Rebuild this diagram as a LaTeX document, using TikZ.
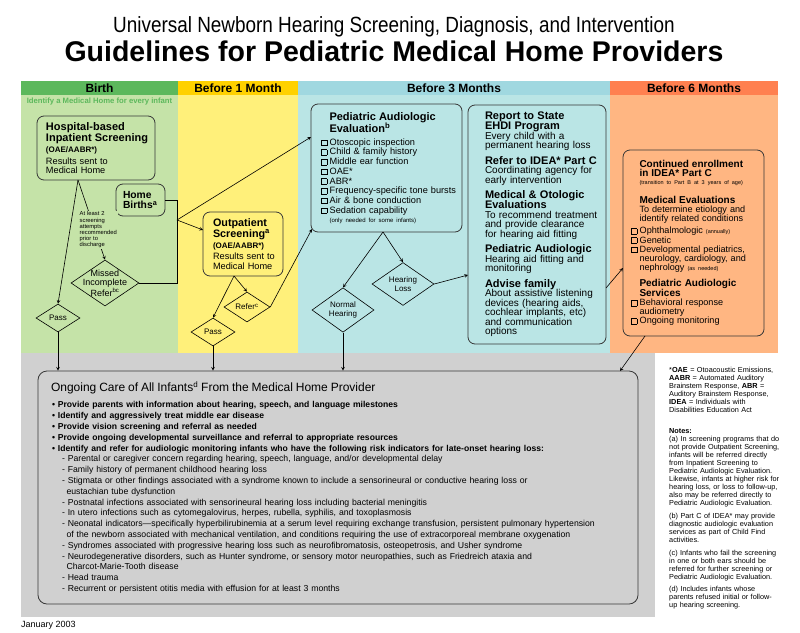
\documentclass[tikz,border=0pt]{standalone}
\usepackage{fontspec}
\setmainfont{Liberation Sans}
\newfontfamily\titlefont{Liberation Sans}[FakeStretch=0.86]
\usetikzlibrary{shapes.geometric, arrows}
\definecolor{birthhd}{RGB}{92,184,92}
\definecolor{birthbg}{RGB}{197,227,168}
\definecolor{monthhd}{RGB}{255,209,0}
\definecolor{monthbg}{RGB}{255,240,122}
\definecolor{threehd}{RGB}{160,216,224}
\definecolor{threebg}{RGB}{186,229,229}
\definecolor{sixhd}{RGB}{255,128,80}
\definecolor{sixbg}{RGB}{255,182,130}
\definecolor{carebg}{RGB}{208,208,208}
\definecolor{edge}{RGB}{55,55,55}
\newcommand{\fsz}[2]{\fontsize{#1}{#2}\selectfont}
\newcommand{\textinset}[1]{\leftskip=#1\relax\lineskiplimit=-20pt\relax\ignorespaces}
\newcommand{\chk}{{\setlength{\fboxsep}{0pt}\setlength{\fboxrule}{0.6pt}\fbox{\rule{0pt}{5pt}\rule{5pt}{0pt}}}\hspace{2.5pt}}
\tikzstyle{roundbox} = [rectangle, rounded corners=7pt, draw=edge, line width=0.8pt, inner xsep=0pt, inner ysep=0pt, align=left]
\tikzstyle{decision} = [diamond, draw=black, line width=0.6pt, inner sep=0pt, align=center]
\tikzstyle{header} = [rectangle, minimum height=14pt, inner sep=0pt, font=\bfseries\fsz{12}{12}]
\tikzstyle{arrow} = [line width=0.6pt,->,>=stealth]
\tikzstyle{line} = [line width=0.6pt]

\begin{document}
\begin{tikzpicture}[x=1pt,y=-1pt]
\useasboundingbox (0,0) rectangle (800,632);
% heading
\node (title) [font=\titlefont\fsz{22}{22}] at (394,27) {Universal Newborn Hearing Screening, Diagnosis, and Intervention};
\node (subtitle) [font=\bfseries\fsz{28.5}{28.5}] at (394,51) {Guidelines for Pediatric Medical Home Providers};

% columns
\fill [birthbg] (21,95) rectangle (178,353);
\fill [monthbg] (178,95) rectangle (298,353);
\fill [threebg] (298,95) rectangle (610,353);
\fill [sixbg] (610,95) rectangle (778,353);
\fill [carebg] (21,353) rectangle (655,617);
\node (birth) [header, fill=birthhd, minimum width=157pt] at (99.5,88) {Birth};
\node (month1) [header, fill=monthhd, minimum width=120pt] at (238,88) {Before 1 Month};
\node (month3) [header, fill=threehd, minimum width=312pt] at (454,88) {Before 3 Months};
\node (month6) [header, fill=sixhd, minimum width=168pt] at (694,88) {Before 6 Months};
\node (medhome) [font=\bfseries\fsz{7.7}{8}, text=birthhd] at (99.5,102) {Identify a Medical Home for every infant};

% birth
\node (hosp) [roundbox, text width=118pt, minimum height=64pt, font=\fsz{9.2}{9.5}] at (96,148) {\textinset{9pt}
{\bfseries\fsz{11}{9.5}Hospital-based\\[1.8pt]Inpatient Screening\\[1.5pt]{\fsz{8}{9.5}(OAE/AABR*)}\\[2.5pt]}
Results sent to\\Medical Home\par};
\node (home) [roundbox, text width=49pt, minimum height=32pt, font=\bfseries\fsz{10.3}{10.6}] at (140.5,200) {\textinset{7pt}Home\\Births\textsuperscript{a}\par};
\node (missed) [decision, minimum width=68pt, minimum height=46pt, inner sep=-7pt, font=\fsz{9}{9}] at (105,283) {Missed\\Incomplete\\Refer\textsuperscript{bc}};
\node (pass1) [decision, minimum width=44pt, minimum height=28pt, font=\fsz{8}{9}] at (58,318) {Pass};

% before 1 month
\node (outp) [roundbox, text width=80pt, minimum height=64pt, font=\fsz{9.2}{9.6}] at (243,244) {\textinset{10pt}
{\bfseries\fsz{10.8}{9.6}Outpatient\\[1.2pt]Screening\textsuperscript{a}\\[1.2pt]{\fsz{8}{9.6}(OAE/AABR*)}\\[1.5pt]}
Results sent to\\Medical Home\par};
\node (refer) [decision, minimum width=46pt, minimum height=30pt, font=\fsz{8}{9}] at (247,307) {Refer\textsuperscript{c}};
\node (pass2) [decision, minimum width=44pt, minimum height=28pt, font=\fsz{8}{9}] at (213,332) {Pass};

% before 3 months
\node (pae) [roundbox, text width=151pt, minimum height=128pt, font=\fsz{9.2}{9.7}] at (386.5,168) {\textinset{10pt}
{\bfseries\fsz{11}{9.7}\hspace*{8.5pt}Pediatric Audiologic\\[2pt]\hspace*{8.5pt}Evaluation\textsuperscript{b}\\[3.2pt]}
\chk Otoscopic inspection\\
\chk Child \& family history\\
\chk Middle ear function\\
\chk OAE*\\
\chk ABR*\\
\chk Frequency-specific tone bursts\\
\chk Air \& bone conduction\\
\chk Sedation capability\\[-0.7pt]
\hspace*{8.5pt}{\fsz{6}{9.7}(only needed for some infants)}\par};
\node (normal) [decision, minimum width=62pt, minimum height=44pt, font=\fsz{8}{9}] at (343,310) {Normal\\Hearing};
\node (loss) [decision, minimum width=62pt, minimum height=42pt, font=\fsz{8}{9}] at (403,284) {Hearing\\Loss};
\node (plan) [roundbox, text width=138pt, minimum height=239pt, font=\fsz{10}{9.5}] at (537,224.5) {\textinset{17pt}
{\bfseries\fsz{11}{9.5}Report to State\\[0.5pt]EHDI Program}\\
Every child with a\\permanent hearing loss\\[6pt]
{\bfseries\fsz{11}{9.5}Refer to IDEA* Part C}\\
Coordinating agency for\\early intervention\\[6pt]
{\bfseries\fsz{11}{9.5}Medical \& Otologic\\[0.5pt]Evaluations}\\
To recommend treatment\\and provide clearance\\for hearing aid fitting\\[6pt]
{\bfseries\fsz{11}{9.5}Pediatric Audiologic}\\
Hearing aid fitting and\\monitoring\\[6pt]
{\bfseries\fsz{11}{9.5}Advise family}\\
About assistive listening\\devices (hearing aids,\\cochlear implants, etc)\\and communication\\options\par};

% before 6 months
\node (cont) [roundbox, text width=141pt, minimum height=186pt, font=\fsz{9.1}{9.2}] at (693.5,243) {\textinset{8pt}
{\bfseries\fsz{10}{9.2}\hspace*{8.5pt}Continued enrollment\\\hspace*{8.5pt}in IDEA* Part C}\\[-1pt]
\hspace*{8.5pt}{\fsz{5.5}{9.2}(transition to Part B at 3 years of age)}\\[9.5pt]
{\bfseries\fsz{10}{9.2}\hspace*{8.5pt}Medical Evaluations}\\
\hspace*{8.5pt}To determine etiology and\\
\hspace*{8.5pt}identify related conditions\\[2.8pt]
\chk Ophthalmologic {\fsz{5.5}{9.2}(annually)}\\
\chk Genetic\\
\chk Developmental pediatrics,\\
\hspace*{8.5pt}neurology, cardiology, and\\
\hspace*{8.5pt}nephrology {\fsz{5.5}{9.2}(as needed)}\\[6.5pt]
{\bfseries\fsz{10}{9.2}\hspace*{8.5pt}Pediatric Audiologic\\[0.6pt]\hspace*{8.5pt}Services}\\[0.2pt]
\chk Behavioral response\\
\hspace*{8.5pt}audiometry\\
\chk Ongoing monitoring\par};

% ongoing care
\node (care) [roundbox, rounded corners=9pt, text width=600pt, minimum height=233pt, font=\fsz{8.7}{10.8}] at (338,487.5) {\textinset{13pt}
{\fsz{12}{10.8}Ongoing Care of All Infants\textsuperscript{d} From the Medical Home Provider}\\[5.2pt]
{\bfseries\fsz{8.6}{10.8}\hspace*{1pt}• Provide parents with information about hearing, speech, and language milestones\\
\hspace*{1pt}• Identify and aggressively treat middle ear disease\\
\hspace*{1pt}• Provide vision screening and referral as needed\\
\hspace*{1pt}• Provide ongoing developmental surveillance and referral to appropriate resources\\
\hspace*{1pt}• Identify and refer for audiologic monitoring infants who have the following risk indicators for late-onset hearing loss:}\\
\hspace*{11pt}- Parental or caregiver concern regarding hearing, speech, language, and/or developmental delay\\
\hspace*{11pt}- Family history of permanent childhood hearing loss\\
\hspace*{11pt}- Stigmata or other findings associated with a syndrome known to include a sensorineural or conductive hearing loss or\\
\hspace*{15.5pt}eustachian tube dysfunction\\
\hspace*{11pt}- Postnatal infections associated with sensorineural hearing loss including bacterial meningitis\\
\hspace*{11pt}- In utero infections such as cytomegalovirus, herpes, rubella, syphilis, and toxoplasmosis\\
\hspace*{11pt}- Neonatal indicators—specifically hyperbilirubinemia at a serum level requiring exchange transfusion, persistent pulmonary hypertension\\
\hspace*{15.5pt}of the newborn associated with mechanical ventilation, and conditions requiring the use of extracorporeal membrane oxygenation\\
\hspace*{11pt}- Syndromes associated with progressive hearing loss such as neurofibromatosis, osteopetrosis, and Usher syndrome\\
\hspace*{11pt}- Neurodegenerative disorders, such as Hunter syndrome, or sensory motor neuropathies, such as Friedreich ataxia and\\
\hspace*{15.5pt}Charcot-Marie-Tooth disease\\
\hspace*{11pt}- Head trauma\\
\hspace*{11pt}- Recurrent or persistent otitis media with effusion for at least 3 months\par};

% notes
\node (notes) [anchor=north west, text width=130pt, align=left, inner sep=0pt, font=\fsz{7.3}{8.1}] at (669,367) {
*\textbf{OAE} = Otoacoustic Emissions,\\
\textbf{AABR} = Automated Auditory\\
Brainstem Response, \textbf{ABR} =\\
Auditory Brainstem Response,\\
\textbf{IDEA} = Individuals with\\
Disabilities Education Act\\[12pt]
\textbf{Notes:}\\
(a) In screening programs that do\\
not provide Outpatient Screening,\\
infants will be referred directly\\
from Inpatient Screening to\\
Pediatric Audiologic Evaluation.\\
Likewise, infants at higher risk for\\
hearing loss, or loss to follow-up,\\
also may be referred directly to\\
Pediatric Audiologic Evaluation.\\[4.3pt]
(b) Part C of IDEA* may provide\\
diagnostic audiologic evaluation\\
services as part of Child Find\\
activities.\\[4.3pt]
(c) Infants who fail the screening\\
in one or both ears should be\\
referred for further screening or\\
Pediatric Audiologic Evaluation.\\[4.3pt]
(d) Includes infants whose\\
parents refused initial or follow-\\
up hearing screening.};
\node (date) [anchor=west, inner sep=0pt, font=\fsz{9}{9}] at (21,625) {January 2003};

% connectors
\coordinate (hb) at (78,180);
\draw [arrow] (hb) -- (pass1.north);
\draw [arrow] (hb) -- (missed.north);
\node (attempts) [anchor=north west, text width=38pt, align=left, inner sep=0.5pt, fill=birthbg, font=\fsz{5.8}{6.2}] at (79,211) {At least 2\\screening\\attempts\\recommended\\prior to\\discharge};
\coordinate (jn) at (177,220);
\draw [line] (home.east) -| (jn);
\draw [line] (missed.east) -| (jn);
\coordinate (paein) at (311,137);
\draw [arrow] (jn) -- (paein);
\coordinate (outin) at (203,230);
\draw [arrow] (jn) -- (outin);
\coordinate (ob) at (234,276);
\draw [arrow] (ob) -- (pass2.north);
\draw [arrow] (ob) -- (refer.north);
\coordinate (paecorner) at (312,229);
\draw [arrow] (refer.east) -- (paecorner);
\coordinate (paeb) at (383,232);
\draw [arrow] (paeb) -- (normal.north);
\draw [arrow] (paeb) -- (loss.north);
\coordinate (planin) at (468,275);
\draw [arrow] (loss.east) -- (planin);
\coordinate (planout) at (606,288);
\coordinate (contin) at (623,268);
\draw [arrow] (planout) -- (contin);
\coordinate (contb) at (645,336);
\coordinate (carein) at (620,371);
\draw [arrow] (contb) -- (carein);
\draw [arrow] (pass1.south) -- (pass1.south |- care.north);
\draw [arrow] (pass2.south) -- (pass2.south |- care.north);
\draw [arrow] (normal.south) -- (normal.south |- care.north);
\end{tikzpicture}
\end{document}
